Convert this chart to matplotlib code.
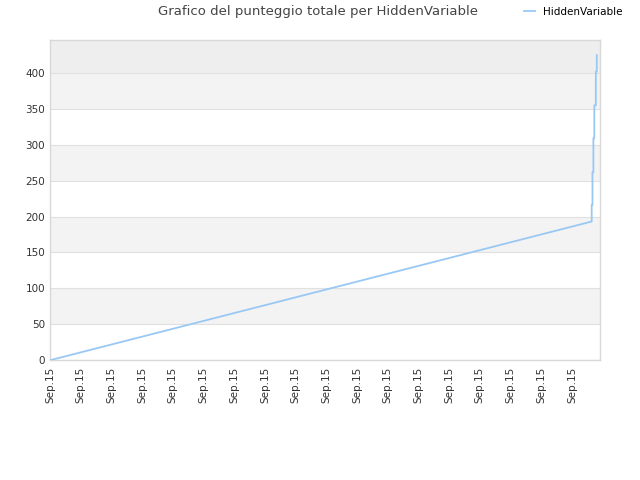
import datetime
import matplotlib
matplotlib.use("Agg")
from matplotlib import pyplot as plt
import matplotlib.dates as mdates

# score history (hours after midnight on Sep 15, total score)
hours = [0.03, 17.645, 17.645, 17.67, 17.67, 17.70, 17.70, 17.73, 17.73, 17.78, 17.78, 17.81, 17.81]
scores = [0, 193, 216, 216, 262, 262, 309, 309, 355, 355, 402, 402, 425]
y_ticks = [0, 50, 100, 150, 200, 250, 300, 350, 400]
series_name = "HiddenVariable"
title = "Grafico del punteggio totale per HiddenVariable"

base = datetime.datetime(2023, 9, 15)
times = [base + datetime.timedelta(hours=h) for h in hours]

fig = plt.figure(figsize=(6.4, 4.8), dpi=100)
ax = fig.add_axes([50 / 640, 1 - 360 / 480, 550 / 640, 320 / 480])

ymax = 446
ax.set_ylim(0, ymax)
ax.set_xlim(base, base + datetime.timedelta(hours=550 / 30.7))

# alternating bands
for i, lo in enumerate(y_ticks):
    hi = lo + 50
    if lo == 400:
        ax.axhspan(lo, ymax, color="#eeeeee", zorder=0, lw=0)
    elif i % 2 == 1:
        ax.axhspan(lo, hi, color="#f3f3f3", zorder=0, lw=0)

for y in y_ticks:
    ax.axhline(y, color="#e0e0e0", lw=0.8, zorder=1)

ax.plot(times, scores, color="#99c8f5", lw=1.3, zorder=3, label=series_name)

ax.set_yticks(y_ticks)
ax.xaxis.set_major_locator(mdates.HourLocator(interval=1))
ax.xaxis.set_major_formatter(mdates.DateFormatter("%b.%d"))
ax.tick_params(axis="both", length=0, labelsize=7.5, colors="#333333")
ax.tick_params(axis="x", pad=5)
for lab in ax.get_xticklabels():
    lab.set_rotation(90)

for s in ax.spines.values():
    s.set_color("#d8d8d8")
    s.set_linewidth(1)

fig.text(0.497, 0.975, title, ha="center", va="center", fontsize=9.5, color="#444444")
fig.legend(loc="center left", bbox_to_anchor=(515 / 640, 0.975), frameon=False,
           fontsize=7.5, handlelength=1.0, handletextpad=0.8)

fig.savefig("out.png", dpi=100)
